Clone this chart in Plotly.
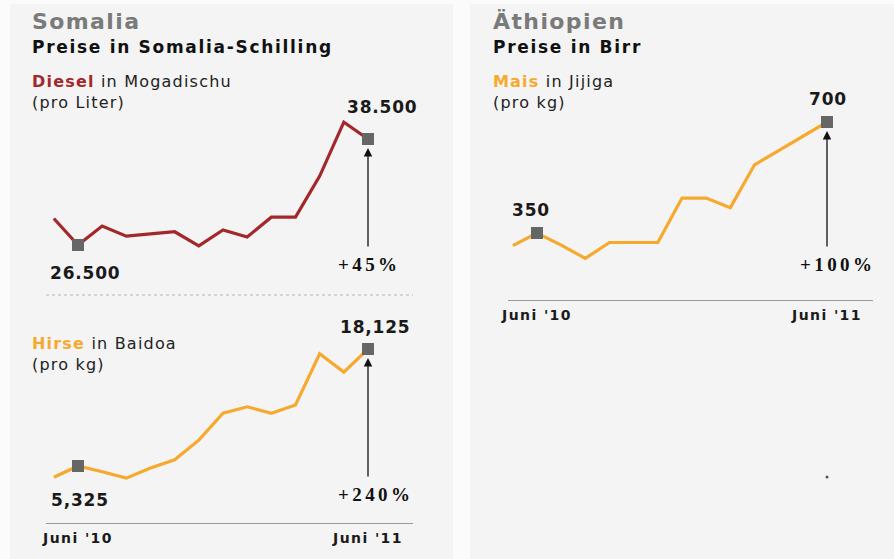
import plotly.graph_objects as go

# ---- data -------------------------------------------------------------
# monthly prices, Mai 2010 .. Juni 2011 (index 1 = Juni '10, index 13 = Juni '11)
months = list(range(14))
tick_vals = [1, 13]
tick_text = ["Juni '10", "Juni '11"]

diesel_mogadischu = [29500, 26500, 28650, 27500, 27750, 28000, 26400,
                     28200, 27400, 29650, 29650, 34300, 40400, 38500]
hirse_baidoa = [4100, 5325, 4700, 4000, 5100, 6000, 8150,
                11100, 11800, 11100, 12000, 17600, 15600, 18125]
mais_jijiga = [310, 350, 312, 270, 320, 320, 320,
               460, 460, 430, 565, 610, 655, 700]

diesel_labels = ["26.500", "38.500", "+45%"]
hirse_labels = ["5,325", "18,125", "+240%"]
mais_labels = ["350", "700", "+100%"]

# ---- styling ----------------------------------------------------------
W, H = 894, 559
RED = "#a3282b"
ORANGE = "#f7a92e"
MARK = "#666666"
GREY_TITLE = "#7a7a7a"
FONT = "DejaVu Sans"
PCT_FONT = "Liberation Serif"


def fx(px):
    return px / W


def fy(py):
    return 1 - py / H


def lin_range(p0, p1, v0, v1, lo, hi):
    """Axis range so that pixel p0 shows v0 and pixel p1 shows v1."""
    k = (v1 - v0) / (p1 - p0)
    return [v0 + (lo - p0) * k, v0 + (hi - p0) * k]


def ls(s, px):
    """Wrap text in a span with extra letter spacing."""
    return f"<span style='letter-spacing:{px}px'>{s}</span>"


fig = go.Figure()

panels = [
    # (data, colour, xaxis, yaxis, x-domain px, y-domain px, x anchors px, y anchors px)
    (diesel_mogadischu, RED, "x", "y", (46, 413), (100, 290), (78, 368), (245, 139)),
    (hirse_baidoa, ORANGE, "x2", "y2", (46, 413), (318, 523), (78, 368), (466, 349)),
    (mais_jijiga, ORANGE, "x3", "y3", (508, 873), (100, 300), (537, 827), (233, 122)),
]

for data, col, xa, ya, xd, yd, xp, yp in panels:
    fig.add_trace(go.Scatter(
        x=months, y=data, xaxis=xa, yaxis=ya, mode="lines",
        line=dict(color=col, width=3.2), hoverinfo="skip", showlegend=False))
    fig.add_trace(go.Scatter(
        x=[months[1], months[13]], y=[data[1], data[13]], xaxis=xa, yaxis=ya,
        mode="markers", marker=dict(symbol="square", size=12, color=MARK,
                                    line=dict(width=0)),
        hoverinfo="skip", showlegend=False))

layout_axes = {}
for data, col, xa, ya, xd, yd, xp, yp in panels:
    xname = "xaxis" if xa == "x" else "xaxis" + xa[1:]
    yname = "yaxis" if ya == "y" else "yaxis" + ya[1:]
    show_ticks = xa in ("x2", "x3")
    layout_axes[xname] = dict(
        domain=[fx(xd[0]), fx(xd[1])],
        range=lin_range(xp[0], xp[1], 1, 13, xd[0], xd[1]),
        anchor=ya, showgrid=False, zeroline=False, automargin=False,
        showline=show_ticks, linecolor="#9a9a9a", linewidth=1,
        tickmode="array", tickvals=tick_vals if show_ticks else [],
        ticktext=[ls(t, 1.4) for t in tick_text], ticks="", ticklabelstandoff=2,
        tickfont=dict(family=FONT, size=14, color="#1a1a1a", weight="bold"),
        fixedrange=True)
    layout_axes[yname] = dict(
        domain=[fy(yd[1]), fy(yd[0])],
        range=lin_range(yp[0], yp[1], data[1], data[13], yd[1], yd[0]),
        anchor=xa, visible=False, automargin=False, fixedrange=True)

fig.update_layout(**layout_axes)

ann = []


def text(px, py, s, size, color="#111", bold=False, anchor="left", family=FONT):
    ann.append(dict(
        x=fx(px), y=fy(py), xref="paper", yref="paper", text=s,
        showarrow=False, xanchor=anchor, yanchor="middle",
        font=dict(family=family, size=size, color=color,
                  weight="bold" if bold else "normal")))


def colored(word, col, rest):
    return ls(f"<b><span style='color:{col}'>{word}</span></b>{rest}", 1.2)


# headers
text(30, 21, ls("Somalia", 1.4), 22, GREY_TITLE, True)
text(30, 47, ls("Preise in Somalia-Schilling", 1.7), 17, "#111", True)
text(30, 82, colored("Diesel", RED, " in Mogadischu"), 16, "#222")
text(30, 103, ls("(pro Liter)", 1.2), 16, "#222")
text(30, 343, colored("Hirse", ORANGE, " in Baidoa"), 16, "#222")
text(30, 365, ls("(pro kg)", 1.2), 16, "#222")

text(491, 21, ls("Äthiopien", 1.4), 22, GREY_TITLE, True)
text(491, 47, ls("Preise in Birr", 1.7), 17, "#111", True)
text(491, 82, colored("Mais", ORANGE, " in Jijiga"), 16, "#222")
text(491, 103, ls("(pro kg)", 1.2), 16, "#222")


# value labels tied to the marked points, with arrows between them
def value_labels(xa, ya, data, labels, first_shift, last_shift, pct_xy, arrow_len, stand):
    for idx, (dx, dy), lab in ((1, first_shift, labels[0]), (13, last_shift, labels[1])):
        ann.append(dict(
            x=months[idx], y=data[idx], xref=xa, yref=ya, text=ls(lab, 0.8),
            showarrow=False, xshift=dx, yshift=dy,
            font=dict(family=FONT, size=17, color="#1a1a1a", weight="bold")))
    ann.append(dict(
        x=months[13], y=data[13], xref=xa, yref=ya, text="",
        showarrow=True, ax=0, ay=arrow_len, arrowhead=2, arrowsize=1.3,
        arrowwidth=1.3, arrowcolor="#111", standoff=stand))
    text(pct_xy[0], pct_xy[1], ls(labels[2], 3.4), 19, "#111", True, "center", PCT_FONT)


value_labels("x", "y", diesel_mogadischu, diesel_labels, (7, -28), (14, 32), (369, 264), 109, 9)
value_labels("x2", "y2", hirse_baidoa, hirse_labels, (2, -34), (7, 22), (375, 494), 129, 9)
value_labels("x3", "y3", mais_jijiga, mais_labels, (-6, 23), (1, 23), (837, 264), 126, 9)

shapes = [
    # panel backgrounds
    dict(type="rect", xref="paper", yref="paper", x0=fx(10), x1=fx(453), y0=0, y1=fy(4),
         fillcolor="#f4f4f4", line=dict(width=0), layer="below"),
    dict(type="rect", xref="paper", yref="paper", x0=fx(470), x1=1, y0=0, y1=fy(4),
         fillcolor="#f4f4f4", line=dict(width=0), layer="below"),
    # dotted separator between the two Somalia charts
    dict(type="line", xref="paper", yref="paper", x0=fx(46), x1=fx(413), y0=fy(295), y1=fy(295),
         line=dict(color="#b5b5b5", width=1, dash="dot")),
    # small dot in the lower right panel
    dict(type="circle", xref="paper", yref="paper", x0=fx(825.5), x1=fx(828.5),
         y0=fy(478.5), y1=fy(475.5), fillcolor="#555", line=dict(width=0)),
]

fig.update_layout(
    width=W, height=H, margin=dict(l=0, r=0, t=0, b=0, autoexpand=False),
    paper_bgcolor="#fbfbfb", plot_bgcolor="rgba(0,0,0,0)",
    annotations=ann, shapes=shapes, showlegend=False,
    font=dict(family=FONT))

fig.write_html("out.html")
